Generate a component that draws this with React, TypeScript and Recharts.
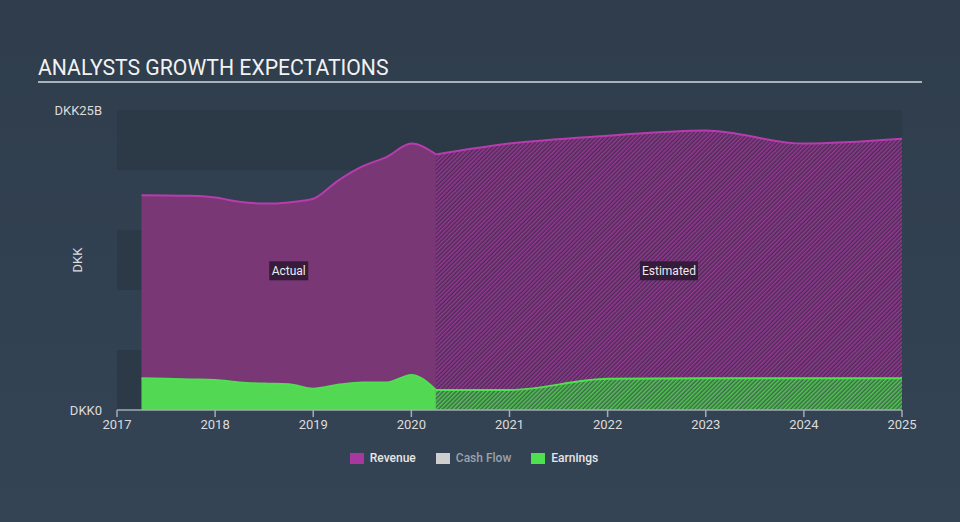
import React from 'react'
import {
  AreaChart,
  Area,
  XAxis,
  YAxis,
  CartesianGrid,
  ReferenceDot,
} from 'recharts'

// reported figures, DKK billions
const actualYears = [2017.25, 2017.75, 2018.0, 2018.25, 2018.5, 2018.75, 2019.0, 2019.25, 2019.5, 2019.75, 2020.0, 2020.25]
const actualRevenue = [17.9, 17.85, 17.7, 17.35, 17.2, 17.3, 17.6, 19.1, 20.3, 21.1, 22.2, 21.3]
const actualEarnings = [2.65, 2.55, 2.5, 2.3, 2.2, 2.15, 1.78, 2.1, 2.3, 2.3, 2.92, 1.67]

// analyst estimates
const estYears = [2020.25, 2021, 2022, 2023, 2024, 2025]
const estRevenue = [21.3, 22.2, 22.85, 23.3, 22.2, 22.6]
const estEarnings = [1.67, 1.67, 2.6, 2.65, 2.65, 2.65]

const yearTicks = [2017, 2018, 2019, 2020, 2021, 2022, 2023, 2024, 2025]
const valueTicks = [0, 25]
const yMax = 25
const bandValues = [25, 20, 15, 10, 5, 0]
const phaseLabelValue = 11.6

const legendItems = [
  { name: 'Revenue', color: '#a8379f', text: '#e6e6e6' },
  { name: 'Cash Flow', color: '#cfcfcf', text: '#9aa2ab' },
  { name: 'Earnings', color: '#4fe04f', text: '#e6e6e6' },
]

const rowMap = new Map<number, any>()
actualYears.forEach((y, i) => {
  rowMap.set(y, { ...(rowMap.get(y) || { year: y }), revA: actualRevenue[i], earnA: actualEarnings[i] })
})
estYears.forEach((y, i) => {
  rowMap.set(y, { ...(rowMap.get(y) || { year: y }), revE: estRevenue[i], earnE: estEarnings[i] })
})
const data = Array.from(rowMap.values()).sort((a, b) => a.year - b.year)

const font = 'Roboto, "Open Sans", sans-serif'

function bandCoords(args: any) {
  const yAxis = args?.yAxis
  if (yAxis && typeof yAxis.scale === 'function') return bandValues.map((v) => yAxis.scale(v))
  const off = args.offset
  return bandValues.map((v) => off.top + off.height * (1 - v / yMax))
}

function PhaseLabel({ cx, cy, text, w }: any) {
  if (cx == null || cy == null) return null
  return (
    <g>
      <rect x={cx - w / 2} y={cy - 9.5} width={w} height={19} fill="#2a1830" fillOpacity={0.85} />
      <text x={cx} y={cy + 4} textAnchor="middle" fill="#ececec" fontSize={12} fontFamily={font}>
        {text}
      </text>
    </g>
  )
}

function LegendBox() {
  return (
    <div
      style={{
        position: 'absolute',
        top: 451,
        left: -6,
        width: 960,
        display: 'flex',
        justifyContent: 'center',
        gap: 20,
        fontFamily: font,
        fontSize: 12,
        fontWeight: 500,
      }}
    >
      {legendItems.map((it) => (
        <div key={it.name} style={{ display: 'flex', alignItems: 'center', gap: 6 }}>
          <span style={{ display: 'inline-block', width: 14, height: 11, background: it.color }} />
          <span style={{ color: it.text }}>{it.name}</span>
        </div>
      ))}
    </div>
  )
}

export default function App() {
  const midActual = (actualYears[0] + actualYears[actualYears.length - 1]) / 2
  const midEst = (estYears[0] + estYears[estYears.length - 1]) / 2
  return (
    <div
      style={{
        position: 'absolute',
        left: 0,
        top: 0,
        width: 960,
        height: 522,
        background: 'linear-gradient(180deg, #2f3d4c 0%, #344455 100%)',
        fontFamily: font,
      }}
    >
      <div
        style={{
          position: 'absolute',
          left: 38,
          top: 55,
          width: 884,
          color: '#f2f2f2',
          fontSize: 21.2,
          lineHeight: '25px',
          paddingBottom: 1,
          borderBottom: '2px solid #a9b1b9',
        }}
      >
        ANALYSTS GROWTH EXPECTATIONS
      </div>
      <AreaChart width={960} height={522} data={data} margin={{ top: 110, right: 58, bottom: 82, left: 0 }}>
        <defs>
          <pattern id="hatchRev" width="3" height="3" patternUnits="userSpaceOnUse" patternTransform="rotate(45)">
            <rect width="3" height="3" fill="#4e2b57" />
            <rect width="1.5" height="3" fill="#923b8f" />
          </pattern>
          <pattern id="hatchEarn" width="3" height="3" patternUnits="userSpaceOnUse" patternTransform="rotate(45)">
            <rect width="3" height="3" fill="#3b6a48" />
            <rect width="1.5" height="3" fill="#55c455" />
          </pattern>
        </defs>
        <CartesianGrid
          vertical={false}
          stroke="transparent"
          horizontalFill={['#2c3a48', 'transparent']}
          horizontalCoordinatesGenerator={bandCoords}
        />
        <XAxis
          dataKey="year"
          type="number"
          domain={[2017, 2025]}
          ticks={yearTicks}
          allowDataOverflow
          height={30}
          axisLine={{ stroke: '#a3abb3', strokeWidth: 1.5 }}
          tickLine={{ stroke: '#a3abb3', strokeWidth: 1.5 }}
          tickSize={7}
          tickMargin={3}
          tick={{ fill: '#dcdcdc', fontSize: 13, fontFamily: font }}
        />
        <YAxis
          type="number"
          domain={[0, yMax]}
          ticks={valueTicks}
          width={117}
          axisLine={false}
          tickLine={false}
          tickSize={0}
          tickMargin={15}
          tick={{ fill: '#dcdcdc', fontSize: 13, fontFamily: font }}
          tickFormatter={(v: number) => (v === 0 ? 'DKK0' : `DKK${v}B`)}
          label={{ value: 'DKK', angle: -90, position: 'center', dx: 19, fill: '#dcdcdc', fontSize: 13, fontFamily: font }}
        />
        <Area
          type="monotone"
          dataKey="revA"
          stroke="#b83cae"
          strokeWidth={2}
          fill="#7a3775"
          fillOpacity={1}
          isAnimationActive={false}
          dot={false}
          activeDot={false}
        />
        <Area
          type="monotone"
          dataKey="revE"
          stroke="#b83cae"
          strokeWidth={2}
          fill="url(#hatchRev)"
          fillOpacity={1}
          isAnimationActive={false}
          dot={false}
          activeDot={false}
        />
        <Area
          type="monotone"
          dataKey="earnA"
          stroke="#4fe04f"
          strokeWidth={2}
          fill="#52d852"
          fillOpacity={1}
          isAnimationActive={false}
          dot={false}
          activeDot={false}
        />
        <Area
          type="monotone"
          dataKey="earnE"
          stroke="#4fe04f"
          strokeWidth={2}
          fill="url(#hatchEarn)"
          fillOpacity={1}
          isAnimationActive={false}
          dot={false}
          activeDot={false}
        />
        <ReferenceDot
          x={midActual}
          y={phaseLabelValue}
          r={0}
          shape={(p: any) => <PhaseLabel {...p} text="Actual" w={39} />}
        />
        <ReferenceDot
          x={midEst}
          y={phaseLabelValue}
          r={0}
          shape={(p: any) => <PhaseLabel {...p} text="Estimated" w={58} />}
        />
      </AreaChart>
      <LegendBox />
    </div>
  )
}
